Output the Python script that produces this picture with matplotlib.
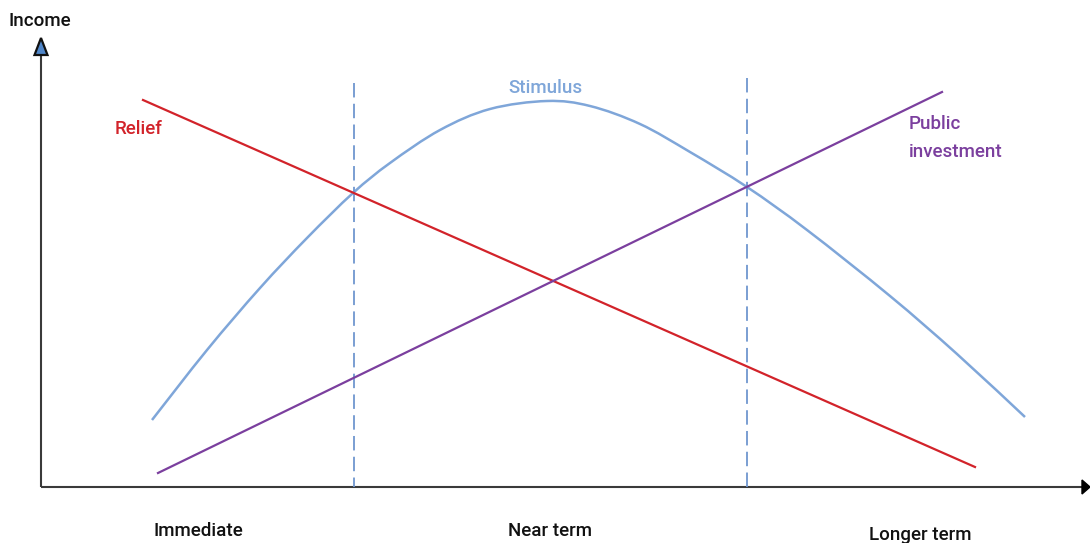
import matplotlib
matplotlib.use("Agg")
import matplotlib.pyplot as plt
from matplotlib.patches import Polygon, PathPatch
from matplotlib.path import Path

plt.rcParams['font.family'] = ['Roboto', 'DejaVu Sans']

# Data (in chart units: x to the right, y downward as in the picture)
relief_x = [143, 975]
relief_y = [100, 467]
public_x = [158, 942]
public_y = [473, 92]
stim_x = [152, 207, 260, 307, 353, 390, 440, 490, 547, 590, 640, 690, 747, 807, 890, 957, 1025]
stim_y = [420, 350, 288, 238, 193, 163, 130, 109, 101, 106, 124, 152, 187, 230, 296, 354, 417]
divider_x = [354, 747]
divider_top = [83, 78]
axis_origin = (41, 487)
x_labels = ["Immediate", "Near term", "Longer term"]
x_label_pos = [198, 550, 920]
x_label_y = [531, 531, 535]

RED = "#d2232a"
PURPLE = "#7b3f9e"
BLUE = "#7fa6d9"
DASH = "#6f96cf"


def smooth_path(xs, ys):
    """Catmull-Rom curve through the given points, drawn as cubic Bezier segments."""
    pts = list(zip(xs, ys))
    verts = [pts[0]]
    codes = [Path.MOVETO]
    n = len(pts)
    for i in range(n - 1):
        p0 = pts[i - 1] if i > 0 else pts[i]
        p1 = pts[i]
        p2 = pts[i + 1]
        p3 = pts[i + 2] if i + 2 < n else pts[i + 1]
        c1 = (p1[0] + (p2[0] - p0[0]) / 6, p1[1] + (p2[1] - p0[1]) / 6)
        c2 = (p2[0] - (p3[0] - p1[0]) / 6, p2[1] - (p3[1] - p1[1]) / 6)
        verts += [c1, c2, p2]
        codes += [Path.CURVE4] * 3
    return Path(verts, codes)


fig = plt.figure(figsize=(10.9, 5.43), dpi=100)
ax = fig.add_axes([0, 0, 1, 1])
ax.set_xlim(0, 1090)
ax.set_ylim(543, 0)
ax.axis("off")

# axes lines
ox, oy = axis_origin
ax.plot([ox, ox], [oy, 50], color="#3a3a3a", lw=1.5, solid_capstyle="butt")
ax.plot([ox, 1084], [oy, oy], color="#3a3a3a", lw=1.5, solid_capstyle="butt")
ax.add_patch(Polygon([[ox, 38], [ox - 6.5, 55], [ox + 6.5, 55]], closed=True,
                     facecolor="#4f86c9", edgecolor="#111111", lw=1.6, zorder=5))
ax.add_patch(Polygon([[1090, oy], [1082, oy - 7], [1082, oy + 7]], closed=True,
                     facecolor="#000000", edgecolor="#000000", lw=1, zorder=5))

# dashed dividers
for dx, top in zip(divider_x, divider_top):
    ax.plot([dx, dx], [top, oy], color=DASH, lw=1.3, dashes=(8, 3.5))

# series
ax.add_patch(PathPatch(smooth_path(stim_x, stim_y), facecolor="none",
                       edgecolor=BLUE, lw=1.8))
ax.plot(relief_x, relief_y, color=RED, lw=1.6)
ax.plot(public_x, public_y, color=PURPLE, lw=1.6)

fs = 13.5
wt = "medium"
ax.text(8, 21, "Income", color="#111111", fontsize=fs, ha="left", va="center", weight=wt)
ax.text(115, 129, "Relief", color=RED, fontsize=fs, ha="left", va="center", weight=wt)
ax.text(545, 88, "Stimulus", color=BLUE, fontsize=fs, ha="center", va="center", weight=wt)
ax.text(909, 124, "Public", color=PURPLE, fontsize=fs, ha="left", va="center", weight=wt)
ax.text(909, 152, "investment", color=PURPLE, fontsize=fs, ha="left", va="center", weight=wt)
for lab, xp, yp in zip(x_labels, x_label_pos, x_label_y):
    ax.text(xp, yp, lab, color="#111111", fontsize=fs, ha="center", va="center", weight=wt)

fig.savefig("out.png", dpi=100)
